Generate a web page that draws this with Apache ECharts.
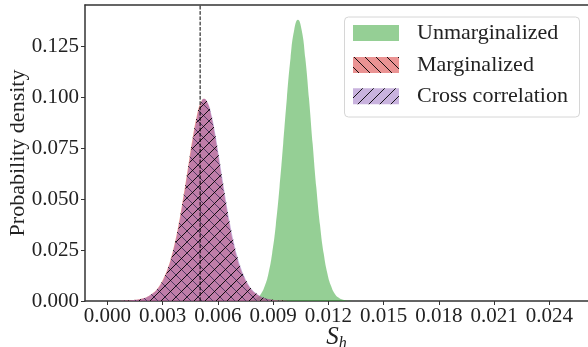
<!DOCTYPE html>
<html><head><meta charset="utf-8">
<script src="https://cdn.jsdelivr.net/npm/echarts@6/dist/echarts.min.js"></script>
<style>html,body{margin:0;padding:0;background:#fff}#c{width:588px;height:347px}</style>
</head><body><div id="c"></div>
<script>
// ---- data ----
const xTicks = [0, 0.003, 0.006, 0.009, 0.012, 0.015, 0.018, 0.021, 0.024];
const yTicks = [0, 0.025, 0.05, 0.075, 0.1, 0.125];
const legendNames = ['Unmarginalized', 'Marginalized', 'Cross correlation'];
const trueValue = 0.00504;

const unmargX = [0.00735,0.00755,0.00775,0.00795,0.00815,0.00835,0.00855,0.00875,0.00895,0.00915,0.00935,0.00955,0.00975,0.00995,0.01015,0.01035,0.01055,0.01075,0.01095,0.01115,0.01135,0.01155,0.01175,0.01195,0.01215,0.01235,0.01255,0.01275,0.01295,0.01315,0.01335];
const unmargY = [0,0.0001,0.0003,0.0007,0.0017,0.0036,0.0073,0.0135,0.0233,0.0373,0.0557,0.0772,0.0995,0.1193,0.1331,0.1380,0.1331,0.1193,0.0995,0.0772,0.0557,0.0373,0.0233,0.0135,0.0073,0.0036,0.0017,0.0007,0.0003,0.0001,0];

const margX = [0.00065,0.00085,0.00105,0.00125,0.00145,0.00165,0.00185,0.00205,0.00225,0.00245,0.00265,0.00285,0.00305,0.00325,0.00345,0.00365,0.00385,0.00405,0.00425,0.00445,0.00465,0.00485,0.00505,0.00525,0.00545,0.00565,0.00585,0.00605,0.00625,0.00645,0.00665,0.00685,0.00705,0.00725,0.00745,0.00765,0.00785,0.00805,0.00825,0.00845,0.00865,0.00885,0.00905,0.00925,0.00945,0.00965,0.00985];
const margY = [0,0.0001,0.0002,0.0003,0.0005,0.0007,0.0011,0.0016,0.0025,0.0037,0.0053,0.0077,0.0110,0.0153,0.0209,0.0280,0.0366,0.0468,0.0579,0.0696,0.0808,0.0904,0.0969,0.0993,0.0969,0.0904,0.0808,0.0696,0.0579,0.0468,0.0366,0.0280,0.0209,0.0153,0.0110,0.0077,0.0053,0.0037,0.0025,0.0016,0.0011,0.0007,0.0005,0.0003,0.0002,0.0001,0];
const crossY = [0,0.0001,0.0002,0.0003,0.0005,0.0006,0.0010,0.0015,0.0023,0.0035,0.0050,0.0072,0.0103,0.0144,0.0198,0.0266,0.0349,0.0448,0.0557,0.0673,0.0786,0.0885,0.0956,0.0992,0.0974,0.0917,0.0827,0.0718,0.0602,0.0490,0.0386,0.0297,0.0223,0.0164,0.0119,0.0084,0.0058,0.0040,0.0027,0.0018,0.0012,0.0008,0.0005,0.0003,0.0002,0.0001,0];

// ---- styling helpers ----
const FONT = '"Liberation Serif", "Times New Roman", serif';
const GREEN = 'rgba(44,160,44,0.5)';
const RED = 'rgba(214,39,40,0.5)';
const PURPLE = 'rgba(148,103,189,0.5)';

function hatch(fill, dir) {
  const s = 11;
  const c = document.createElement('canvas');
  c.width = s; c.height = s;
  const g = c.getContext('2d');
  g.fillStyle = fill; g.fillRect(0, 0, s, s);
  g.strokeStyle = 'rgba(0,0,0,0.9)'; g.lineWidth = 1;
  g.beginPath();
  if (dir === 'back') {
    g.moveTo(-1, -1); g.lineTo(s + 1, s + 1);
    g.moveTo(s - 1, -1); g.lineTo(s + 1, 1);
    g.moveTo(-1, s - 1); g.lineTo(1, s + 1);
  } else {
    g.moveTo(-1, s + 1); g.lineTo(s + 1, -1);
    g.moveTo(-1, 1); g.lineTo(1, -1);
    g.moveTo(s - 1, s + 1); g.lineTo(s + 1, s - 1);
  }
  g.stroke();
  return c;
}
const redPat = { image: hatch(RED, 'back'), repeat: 'repeat' };
const purPat = { image: hatch(PURPLE, 'fwd'), repeat: 'repeat' };

const X_MIN = -0.001211, X_MAX = 0.026101, Y_MIN = 0, Y_MAX = 0.14525;
const axisCol = '#333';

function pairs(xs, ys) { return xs.map((x, i) => [x, ys[i]]); }

const chart = echarts.init(document.getElementById('c'), null, { renderer: 'canvas' });
const rows = [33, 65, 96.3];
const fills = [GREEN, redPat, purPat];
const legendGraphics = [{
  type: 'rect', shape: { x: 344.5, y: 17, width: 235, height: 100, r: 4 },
  style: { fill: 'rgba(255,255,255,0.8)', stroke: '#d6d6d6', lineWidth: 1 }, z: 100
}];
legendNames.forEach((n, i) => {
  legendGraphics.push({ type: 'rect', shape: { x: 353, y: rows[i] - 8, width: 46, height: 16 }, style: { fill: fills[i] }, z: 101 });
  legendGraphics.push({ type: 'text', x: 417, y: rows[i], style: { text: n, font: '22px ' + FONT, fill: '#222', verticalAlign: 'middle', textAlign: 'left' }, z: 101 });
});

chart.setOption({
  animation: false,
  backgroundColor: '#fff',
  grid: { left: 85, right: 0, top: 5, bottom: 46, containLabel: false, outerBoundsMode: 'none' },
  xAxis: [{
    type: 'value', min: X_MIN, max: X_MAX, position: 'bottom',
    name: '{s|S}{h|h}', nameLocation: 'middle', nameGap: 24, nameMoveOverlap: false,
    nameTextStyle: { rich: {
      s: { fontFamily: FONT, fontStyle: 'italic', fontSize: 25, lineHeight: 27, verticalAlign: 'top', color: '#222' },
      h: { fontFamily: FONT, fontStyle: 'italic', fontSize: 16, lineHeight: 16, verticalAlign: 'bottom', color: '#222' }
    } },
    axisLine: { show: true, onZero: false, lineStyle: { color: axisCol, width: 1.5 } },
    axisTick: { show: true, length: 4, customValues: xTicks, lineStyle: { color: axisCol, width: 1 } },
    axisLabel: { customValues: xTicks, formatter: v => v.toFixed(3), fontFamily: FONT, fontSize: 21, color: '#222', margin: 5 },
    splitLine: { show: false }
  }, {
    type: 'value', min: X_MIN, max: X_MAX, position: 'top',
    axisLine: { show: true, onZero: false, lineStyle: { color: axisCol, width: 1.5 } },
    axisTick: { show: false }, axisLabel: { show: false }, splitLine: { show: false }
  }],
  yAxis: {
    type: 'value', min: Y_MIN, max: Y_MAX,
    name: 'Probability density', nameLocation: 'middle', nameGap: 56, nameMoveOverlap: false,
    nameTextStyle: { fontFamily: FONT, fontSize: 22, color: '#222' },
    axisLine: { show: true, onZero: false, lineStyle: { color: axisCol, width: 1.5 } },
    axisTick: { show: true, length: 4, customValues: yTicks, lineStyle: { color: axisCol, width: 1 } },
    axisLabel: { customValues: yTicks, formatter: v => v.toFixed(3), fontFamily: FONT, fontSize: 21, color: '#222', margin: 6 },
    splitLine: { show: false }
  },
  series: [
    { type: 'line', name: legendNames[0], data: pairs(unmargX, unmargY), showSymbol: false, symbol: 'none', smooth: true, silent: true,
      lineStyle: { width: 0, opacity: 0 }, areaStyle: { color: GREEN, opacity: 1 }, z: 2 },
    { type: 'line', name: legendNames[1], data: pairs(margX, margY), showSymbol: false, symbol: 'none', smooth: true, silent: true,
      lineStyle: { width: 0, opacity: 0 }, areaStyle: { color: redPat, opacity: 1 }, z: 3 },
    { type: 'line', name: legendNames[2], data: pairs(margX, crossY), showSymbol: false, symbol: 'none', smooth: true, silent: true,
      lineStyle: { width: 0, opacity: 0 }, areaStyle: { color: purPat, opacity: 1 }, z: 4 },
    { type: 'line', name: 'true value', data: [[trueValue, Y_MIN], [trueValue, Y_MAX]], showSymbol: false, symbol: 'none', silent: true,
      lineStyle: { color: '#000', type: [3.7, 1.6], width: 1 }, z: 5 }
  ],
  graphic: legendGraphics
});
</script></body></html>
